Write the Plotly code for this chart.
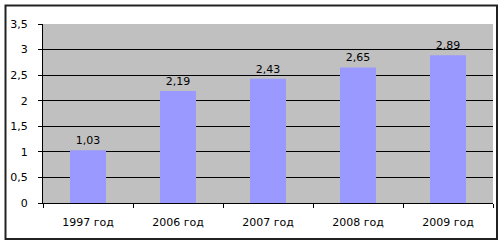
import plotly.graph_objects as go

categories = ["1997 год", "2006 год", "2007 год", "2008 год", "2009 год"]
values = [1.03, 2.19, 2.43, 2.65, 2.89]
y_ticks = [0, 0.5, 1, 1.5, 2, 2.5, 3, 3.5]

W, H = 504, 245
L, R, T, B = 43, 11, 24, 42
pw, ph = W - L - R, H - T - B

def px_to_paper_x(px):
    return (px - L) / pw

def px_to_paper_y(py):
    return (H - B - py) / ph

fig = go.Figure(go.Bar(
    x=categories, y=values,
    marker=dict(color="#9999FF", line=dict(width=0)),
    texttemplate="%{y:.2f}", textposition="outside",
    textfont=dict(family="DejaVu Sans", size=11, color="black"),
    cliponaxis=False,
))

fig.update_layout(
    width=W, height=H,
    margin=dict(l=L, r=R, t=T, b=B),
    paper_bgcolor="white", plot_bgcolor="#C0C0C0",
    separators=", ",
    bargap=0.6,
    showlegend=False,
    font=dict(family="DejaVu Sans", size=11, color="black"),
    xaxis=dict(
        showgrid=False, showline=True, linecolor="black", linewidth=1,
        ticks="outside", tickson="boundaries", ticklen=4, tickcolor="black",
        tickfont=dict(size=11), ticklabelstandoff=9,
    ),
    yaxis=dict(
        range=[0, 3.5], tickvals=y_ticks, showgrid=True, gridcolor="black",
        gridwidth=1, showline=True, linecolor="black", linewidth=1,
        ticks="outside", ticklen=4, tickcolor="black", zeroline=False,
        tickfont=dict(size=11), ticklabelstandoff=8,
    ),
    shapes=[dict(
        type="rect", xref="paper", yref="paper",
        x0=px_to_paper_x(5.5), x1=px_to_paper_x(497),
        y0=px_to_paper_y(239), y1=px_to_paper_y(5.5),
        line=dict(color="#222222", width=2), fillcolor="rgba(0,0,0,0)",
        layer="below",
    )],
)

fig.write_html("out.html")
